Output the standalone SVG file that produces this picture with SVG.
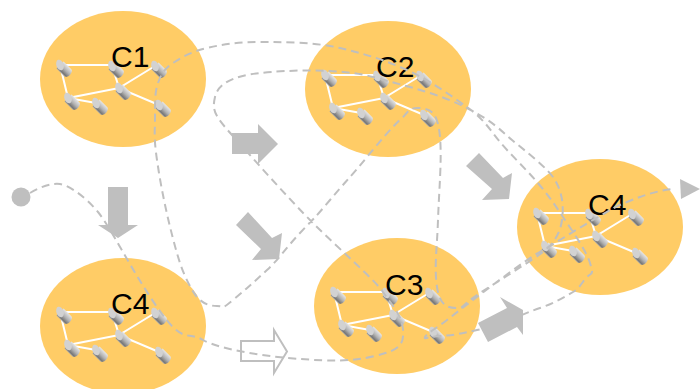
<svg xmlns="http://www.w3.org/2000/svg" width="700" height="389" viewBox="0 0 700 389">
<style>
.blob{fill:#ffcc66}
.lnk{stroke:#fff;stroke-width:2;fill:none}
.lbl{font-family:"Liberation Sans",Arial,sans-serif;font-size:30px;fill:#000}
.arr{fill:#bfbfbf}
.route{fill:none;stroke:#bfbfbf;stroke-width:2;stroke-dasharray:8 5}
</style>
<defs>
<linearGradient id="cg" x1="0" y1="0" x2="0" y2="1">
<stop offset="0" stop-color="#e6e6e6"/><stop offset=".5" stop-color="#b0b0b0"/><stop offset=".85" stop-color="#777"/><stop offset="1" stop-color="#aaa"/>
</linearGradient>
<g id="cyl">
<path transform="rotate(45)" d="M0,-5 H11 A3,5 0 0 1 11,5 H0 Z" fill="url(#cg)"/>
<ellipse transform="rotate(-20)" rx="3.6" ry="5.5" fill="#d2d2d2"/>
</g>
<g id="net">
<path class="lnk" d="M-63,-14 H-11 L-4,9 L32,-13 M-63,-14 L-55,19 L-4,9 L36,26 M-55,19 L-27,24"/>
<use href="#cyl" x="-63" y="-14"/><use href="#cyl" x="-11" y="-13"/><use href="#cyl" x="32" y="-13"/>
<use href="#cyl" x="-4" y="9"/><use href="#cyl" x="-55" y="19"/><use href="#cyl" x="-27" y="24"/><use href="#cyl" x="36" y="26"/>
</g>
</defs>
<g id="c1"><ellipse class="blob" cx="123" cy="79" rx="83" ry="68"/><use href="#net" x="123" y="79"/><text class="lbl" x="111" y="67">C1</text></g>
<g id="c2"><ellipse class="blob" cx="388" cy="89" rx="83" ry="68"/><use href="#net" x="388" y="89"/><text class="lbl" x="376" y="77">C2</text></g>
<g id="c4a"><ellipse class="blob" cx="123" cy="326" rx="83" ry="68"/><use href="#net" x="123" y="326"/><text class="lbl" x="111" y="314">C4</text></g>
<g id="c3"><ellipse class="blob" cx="397" cy="306" rx="83" ry="68"/><use href="#net" x="397" y="306"/><text class="lbl" x="385" y="295">C3</text></g>
<g id="c4b"><ellipse class="blob" cx="600" cy="227" rx="83" ry="68"/><use href="#net" x="600" y="227"/><text class="lbl" x="588" y="215">C4</text></g>
<g id="connectors">
<path class="route" d="M30,193 C42,186 52,183 60,184 S85,196 98,212 S130,268 157,307 S185,330 203,340 S270,357 300,359 S350,362 375,356 S404,345 403,330 S392,305 383,292 S340,250 313,223 S250,155 232,135 S212,110 215,97 S232,76 260,73 S340,68 373,77 S440,94 467,108 S500,130 512,140 S548,168 555,180 S564,205 562,220 S552,245 543,252 S500,280 480,293 S465,308 457,308 S440,307 437,287 S437,250 438,220 S442,160 440,137 S432,109 420,108 S408,113 403,117 S385,135 367,157 S345,182 330,200 S315,217 300,233 S280,258 267,270 S245,290 233,300 S225,306 217,306 S202,303 197,297 S185,278 180,263 S165,210 159,173 S155,135 155,117 S155,92 158,83 S165,68 173,63 S190,52 207,48 S240,42 260,42 S315,42 340,48 S385,60 407,70 S450,95 467,107 S490,130 500,142 S525,168 537,182 S555,205 563,217 S586,250 590,263 S592,272 587,277 S580,288 573,292 S555,303 540,308 S500,325 477,330 S455,335 440,336 S424,340 425,337 S438,327 447,320 S465,306 477,297 S525,260 543,250 S575,230 593,220 S612,208 627,202 S655,191 673,189"/>
<circle class="arr" cx="21" cy="197" r="9.5"/>
<polygon class="arr" points="680,179 700,189 681,199"/>
<polygon class="arr" points="108,187 128,187 128,225 138,225 118,238 98,225 108,225"/>
<polygon class="arr" points="232,133 258,133 258,124 278,144 258,164 258,154 232,154"/>
<polygon class="arr" points="248,212 236,225 261,249 252,260 279,259 282,233 272,238"/>
<polygon class="arr" points="479,153 466,166 492,189 482,200 509,199 512,173 503,178"/>
<polygon class="arr" points="478,323 507,308 500,297 523,310 523,335 517,327 488,342"/>
<polygon points="241,341 274,341 274,330 287,351.5 274,373 274,361 241,361" fill="none" stroke="#bfbfbf" stroke-width="2"/>
</g>
</svg>
